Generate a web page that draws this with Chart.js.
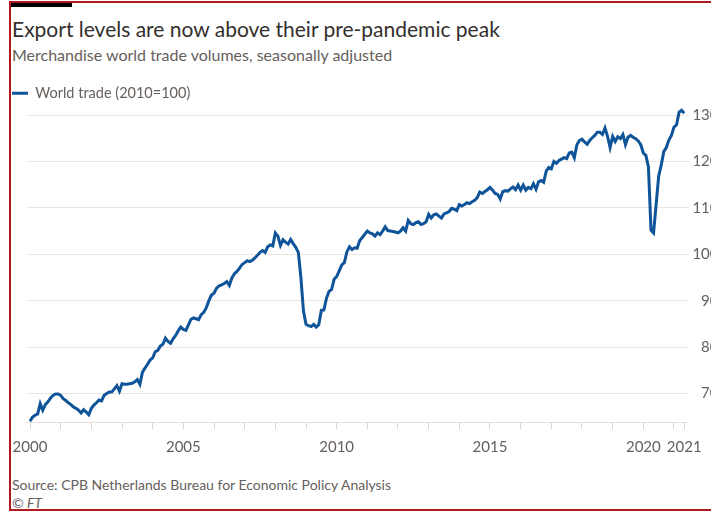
<!DOCTYPE html>
<html>
<head>
<meta charset="utf-8">
<script src="https://cdn.jsdelivr.net/npm/chart.js@4.4.1/dist/chart.umd.min.js"></script>
<style>
  html, body { margin: 0; padding: 0; background: #fff; width: 711px; height: 513px; overflow: hidden; }
  body { position: relative; font-family: Lato, "Noto Sans", sans-serif; }
  .frame { position: absolute; left: 9px; top: 1px; width: 760px; height: 506px;
           border-left: 2px solid #b2191e; border-top: 2px solid #b2191e; border-bottom: 2px solid #b2191e; }
  .bar { position: absolute; left: 11px; top: 3px; width: 61px; height: 4px; background: #000; }
  .title { position: absolute; left: 12px; top: 16px; font-size: 21px; line-height: 25px; color: #33302e; white-space: nowrap; }
  .subtitle { position: absolute; left: 12px; top: 45px; font-size: 16px; line-height: 19px; color: #66605c; white-space: nowrap; }
  .source { position: absolute; left: 12px; top: 476px; font-size: 14px; line-height: 17px; color: #66605c; white-space: nowrap; }
  .credit { position: absolute; left: 12px; top: 494px; font-size: 14px; line-height: 17px; color: #66605c; font-style: italic; }
  #chart { position: absolute; left: 2px; top: 76px; }
</style>
</head>
<body>
<div class="frame"></div>
<div class="bar"></div>
<div class="title">Export levels are now above their pre-pandemic peak</div>
<div class="subtitle">Merchandise world trade volumes, seasonally adjusted</div>
<canvas id="chart" width="720" height="382"></canvas>
<div class="source">Source: CPB Netherlands Bureau for Economic Policy Analysis</div>
<div class="credit">© FT</div>
<script>
// monthly world trade volume index, 2010=100, Jan 2000 .. May 2021
const startYear = 2000
const trade2000 = [64.0, 64.9, 65.3, 65.6, 67.8, 66.4, 67.6, 68.2, 69.0, 69.6, 69.9, 69.9]
const trade2001 = [69.6, 68.9, 68.5, 68.0, 67.6, 67.1, 66.8, 66.4, 65.8, 66.5, 66.0, 65.4]
const trade2002 = [66.8, 67.5, 68.0, 68.6, 68.4, 69.6, 70.0, 70.3, 70.3, 71.0, 71.7, 70.5]
const trade2003 = [72.1, 72.0, 72.0, 72.1, 72.2, 72.5, 73.0, 72.0, 74.6, 75.5, 76.3, 77.2]
const trade2004 = [77.7, 79.0, 79.3, 80.2, 80.6, 81.9, 81.2, 80.8, 81.8, 82.5, 83.5, 84.3]
const trade2005 = [83.8, 83.6, 84.8, 86.0, 86.3, 86.1, 85.9, 87.0, 87.5, 88.5, 90.0, 91.2]
const trade2006 = [91.6, 92.7, 93.2, 93.4, 93.7, 94.1, 93.3, 94.9, 95.8, 96.3, 97.0, 97.8]
const trade2007 = [98.2, 98.6, 98.4, 98.7, 99.2, 99.8, 100.4, 100.8, 100.4, 101.6, 102.0, 101.8]
const trade2008 = [104.6, 103.9, 101.9, 103.1, 102.6, 102.2, 103.2, 102.3, 101.5, 100.4, 95.0, 87.8]
const trade2009 = [84.9, 84.6, 84.4, 84.9, 84.3, 84.8, 87.9, 88.0, 90.5, 92.0, 92.4, 94.6]
const trade2010 = [95.2, 96.4, 97.7, 98.2, 100.5, 101.6, 101.0, 101.4, 101.3, 102.9, 103.6, 104.3]
const trade2011 = [105.0, 104.6, 104.4, 103.9, 104.6, 104.2, 105.0, 105.9, 105.1, 105.0, 104.9, 104.8]
const trade2012 = [104.6, 105.0, 105.7, 105.0, 107.3, 106.6, 106.4, 106.8, 107.0, 106.4, 106.6, 107.0]
const trade2013 = [108.6, 107.8, 108.5, 108.7, 108.2, 107.8, 108.7, 108.9, 109.2, 109.9, 109.7, 109.4]
const trade2014 = [110.7, 110.4, 110.7, 111.1, 110.9, 111.3, 111.6, 112.2, 113.4, 113.1, 113.5, 113.9]
const trade2015 = [114.4, 113.8, 113.1, 112.9, 111.9, 113.5, 113.7, 113.6, 114.1, 114.5, 113.9, 114.9]
const trade2016 = [113.8, 114.9, 113.8, 114.4, 114.1, 115.2, 114.0, 115.6, 115.9, 115.5, 117.9, 118.7]
const trade2017 = [118.4, 120.0, 119.6, 120.2, 120.5, 120.8, 120.6, 121.8, 122.0, 120.8, 123.6, 124.5]
const trade2018 = [124.8, 124.2, 123.7, 124.5, 125.1, 125.6, 126.3, 126.3, 125.8, 127.2, 125.4, 123.0]
const trade2019 = [125.4, 124.3, 125.3, 124.9, 125.8, 123.6, 125.2, 125.6, 125.2, 124.9, 124.4, 123.6]
const trade2020 = [121.8, 121.3, 118.8, 105.2, 104.6, 110.7, 116.8, 119.2, 122.1, 123.0, 124.6, 125.6]
const trade2021 = [127.4, 127.9, 130.6, 131.0, 130.4]

const labelledYears = [2000, 2005, 2010, 2015, 2020]
const yTicks = [70, 80, 90, 100, 110, 120, 130]

const worldTrade = [].concat(trade2000, trade2001, trade2002, trade2003, trade2004, trade2005,
    trade2006, trade2007, trade2008, trade2009, trade2010, trade2011, trade2012, trade2013,
    trade2014, trade2015, trade2016, trade2017, trade2018, trade2019, trade2020, trade2021)

const points = worldTrade.map((v, i) => ({ x: startYear + i / 12, y: v }))
const lastX = points[points.length - 1].x

const grey = '#66605c'
const font = { family: 'Lato, "Noto Sans", sans-serif', size: 15 }

new Chart(document.getElementById('chart'), {
    type: 'line',
    data: {
        datasets: [{
            label: 'World trade (2010=100)',
            data: points,
            yAxisID: 'y',
            borderColor: '#0f5499',
            backgroundColor: '#0f5499',
            borderWidth: 3,
            pointRadius: 0,
            tension: 0,
            clip: 4,
        }]
    },
    options: {
        responsive: false,
        animation: false,
        layout: { padding: { left: 0, right: 3.5, top: 0, bottom: 2 } },
        plugins: {
            tooltip: { enabled: false },
            legend: {
                position: 'top',
                align: 'start',
                labels: {
                    usePointStyle: true,
                    pointStyle: 'line',
                    pointStyleWidth: 16,
                    padding: 10,
                    color: grey,
                    font: { family: font.family, size: 14.5 },
                }
            }
        },
        scales: {
            y: {
                position: 'right',
                min: 63.857,
                max: 130.97,
                afterBuildTicks: s => { s.ticks = yTicks.map(v => ({ value: v })) },
                afterFit: s => { s.width = 30 },
                grid: { color: '#ebe6e2', drawTicks: false },
                border: { display: false },
                ticks: { padding: 5, crossAlign: 'far', color: grey, font },
            },
            yLeft: {
                position: 'left',
                grid: { display: false },
                border: { display: false },
                ticks: { display: false },
                afterFit: s => { s.width = 25 },
            },
            x: {
                type: 'linear',
                min: 1999.902,
                max: 2021.473,
                afterBuildTicks: s => {
                    const ticks = []
                    for (let yr = 2000; yr <= 2021; yr++) ticks.push({ value: yr })
                    ticks.push({ value: lastX })
                    s.ticks = ticks
                },
                afterFit: s => { s.height = 34 },
                grid: { drawOnChartArea: false, drawTicks: true, tickLength: 7, color: '#ddd6d0' },
                border: { display: true, color: '#e6e0db' },
                ticks: {
                    autoSkip: false,
                    maxRotation: 0,
                    padding: 9,
                    color: grey,
                    font,
                    callback: v => {
                        if (v === lastX) return '2021'
                        return labelledYears.includes(v) ? String(v) : ''
                    }
                }
            }
        }
    }
})
</script>
</body>
</html>
